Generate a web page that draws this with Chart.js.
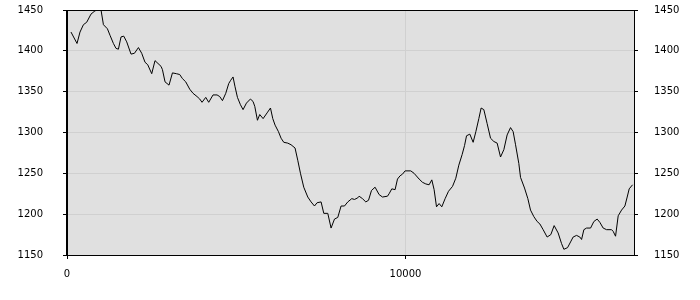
<!DOCTYPE html>
<html lang="en">
<head>
    <meta charset="UTF-8">
    <title>Series chart</title>
    <style>
        body { margin: 0; padding: 0; background: #ffffff; }
        #wrap { width: 700px; height: 300px; }
    </style>
</head>
<body>
    <div id="wrap"><canvas id="chart" width="700" height="300"></canvas></div>

    <script src="https://cdn.jsdelivr.net/npm/chart.js"></script>
    <script>
        // values
        const xValues = [
            118, 296, 384, 485, 582, 709, 827, 907, 1005, 1076, 1194, 1271, 1371, 1448, 1519, 1596, 1676, 1764,
            1891, 1992, 2110, 2207, 2305, 2385, 2503, 2600, 2778, 2819, 2896, 3014, 3115, 3233, 3330, 3410,
            3508, 3626, 3723, 3842, 3921, 3989, 4099, 4187, 4314, 4433, 4512, 4592, 4690, 4778, 4837, 4905,
            4964, 5035, 5124, 5201, 5301, 5419, 5496, 5547, 5626, 5694, 5793, 5911, 6011, 6079, 6147, 6247,
            6324, 6404, 6522, 6619, 6737, 6817, 6897, 6994, 7113, 7210, 7311, 7388, 7506, 7586, 7704, 7801,
            7902, 7999, 8097, 8197, 8295, 8413, 8493, 8590, 8629, 8729, 8827, 8907, 8995, 9101, 9220, 9320,
            9468, 9515, 9595, 9692, 9763, 9840, 9911, 9988, 10156, 10254, 10402, 10502, 10600, 10697, 10777,
            10845, 10916, 10993, 11072, 11170, 11270, 11389, 11486, 11575, 11673, 11744, 11803, 11900, 11998,
            12078, 12166, 12234, 12314, 12411, 12512, 12609, 12707, 12807, 12905, 13002, 13103, 13180, 13251,
            13348, 13398, 13516, 13614, 13693, 13791, 13889, 13969, 14066, 14184, 14293, 14391, 14509, 14610,
            14678, 14787, 14876, 14952, 15053, 15150, 15201, 15269, 15348, 15467, 15564, 15662, 15741, 15839,
            15940, 16087, 16134, 16205, 16283, 16383, 16481, 16549, 16608, 16708
        ];
        const yValues = [
            1423, 1409, 1423, 1432, 1435, 1445, 1449, 1450, 1450, 1432, 1427, 1419, 1409, 1403, 1402, 1417, 1418, 1411,
            1396, 1397, 1404, 1397, 1386, 1383, 1372, 1388, 1381, 1377, 1362, 1358, 1373, 1372, 1371, 1366,
            1362, 1353, 1348, 1344, 1341, 1337, 1343, 1337, 1346, 1346, 1344, 1339, 1348, 1360, 1364, 1368,
            1356, 1343, 1334, 1328, 1336, 1341, 1338, 1332, 1315, 1322, 1317, 1324, 1330, 1317, 1309, 1301,
            1293, 1288, 1287, 1285, 1281, 1266, 1250, 1233, 1221, 1215, 1210, 1214, 1215, 1201, 1201, 1183,
            1194, 1196, 1210, 1210, 1215, 1219, 1218, 1220, 1222, 1219, 1215, 1217, 1229, 1233, 1224, 1221,
            1222, 1225, 1231, 1230, 1243, 1247, 1249, 1253, 1253, 1250, 1243, 1239, 1237, 1236, 1242,
            1230, 1209, 1213, 1209, 1219, 1228, 1234, 1244, 1260, 1273, 1284, 1296, 1298, 1288,
            1301, 1317, 1330, 1328, 1311, 1293, 1289, 1287, 1270, 1279, 1297, 1306, 1301, 1285,
            1262, 1245, 1232, 1219, 1205, 1197, 1191, 1188, 1181, 1172, 1175, 1186, 1177, 1164,
            1157, 1159, 1166, 1172, 1174, 1172, 1169, 1181, 1183, 1183, 1191, 1194, 1190, 1183,
            1181, 1181, 1179, 1173, 1198, 1205, 1210, 1221, 1231, 1236
        ];
        const xTickValues = [0, 10000];
        const xMin = 0, xMax = 16750;
        const yMin = 1150, yMax = 1450, yStep = 50;

        const points = xValues.map((x, i) => ({ x: x, y: yValues[i] }));

        // gray plot area + black frame
        const plotFrame = {
            id: 'plotFrame',
            beforeDraw(chart) {
                const a = chart.chartArea, ctx = chart.ctx;
                ctx.save();
                ctx.fillStyle = '#e0e0e0';
                ctx.fillRect(a.left, a.top, a.right - a.left, a.bottom - a.top);
                ctx.restore();
            },
            afterDraw(chart) {
                const a = chart.chartArea, ctx = chart.ctx;
                ctx.save();
                ctx.strokeStyle = '#000000';
                ctx.lineWidth = 1;
                ctx.strokeRect(Math.round(a.left) - 0.5, Math.round(a.top) + 0.5,
                    Math.round(a.right - a.left) + 1, Math.round(a.bottom - a.top));
                ctx.restore();
            }
        };

        const tickFont = { family: 'DejaVu Sans', size: 10 };
        const plain = v => String(v);

        // keep the label overflow from pushing the plot area around
        function fitVertical(width) {
            return function (scale) {
                scale.width = width;
                scale.paddingTop = 0;
                scale.paddingBottom = 0;
            };
        }

        new Chart(document.getElementById('chart'), {
            type: 'line',
            data: {
                datasets: [{
                    data: points,
                    borderColor: '#000000',
                    borderWidth: 1,
                    pointRadius: 0,
                    tension: 0,
                    fill: false
                }]
            },
            options: {
                responsive: false,
                animation: false,
                layout: { padding: { top: 10, left: 0, right: 0, bottom: 0 } },
                plugins: { legend: { display: false }, tooltip: { enabled: false } },
                scales: {
                    x: {
                        type: 'linear',
                        min: xMin,
                        max: xMax,
                        afterBuildTicks(axis) {
                            axis.ticks = xTickValues.map(v => ({ value: v }));
                        },
                        afterFit(scale) {
                            scale.height = 45;
                            scale.paddingLeft = 0;
                            scale.paddingRight = 0;
                        },
                        grid: { color: '#d0d0d0', tickColor: '#000000', tickLength: 4 },
                        border: { color: '#000000' },
                        ticks: { color: '#000000', font: tickFont, padding: 9, maxRotation: 0, callback: plain }
                    },
                    y: {
                        position: 'left',
                        min: yMin,
                        max: yMax,
                        afterFit: fitVertical(67),
                        grid: { color: '#d0d0d0', tickColor: '#000000', tickLength: 4 },
                        border: { color: '#000000' },
                        ticks: { stepSize: yStep, color: '#000000', font: tickFont, padding: 20, callback: plain }
                    },
                    y2: {
                        position: 'right',
                        min: yMin,
                        max: yMax,
                        afterFit: fitVertical(66),
                        grid: { drawOnChartArea: false, tickColor: '#000000', tickLength: 4 },
                        border: { color: '#000000' },
                        ticks: { stepSize: yStep, color: '#000000', font: tickFont, padding: 16, callback: plain }
                    }
                }
            },
            plugins: [plotFrame]
        });
    </script>
</body>
</html>
